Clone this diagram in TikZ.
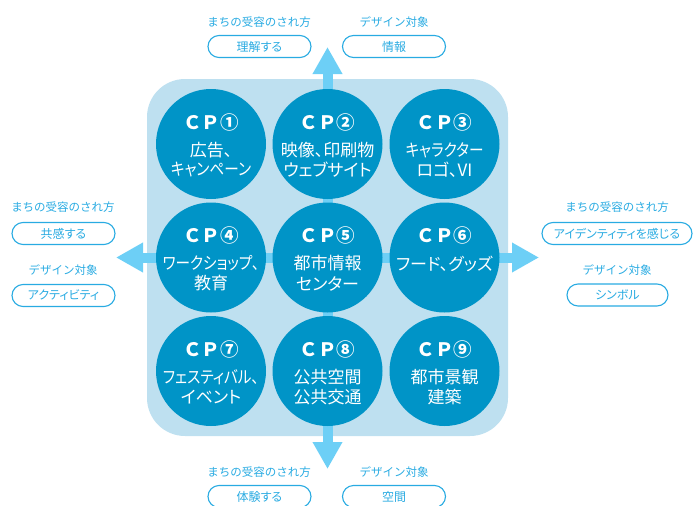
\documentclass[tikz,border=0pt]{standalone}
\usepackage{fontspec}
\setmainfont{Noto Sans CJK JP}
\newfontfamily\jpp[RawFeature=+palt]{Noto Sans CJK JP}
\newfontfamily\jpk[RawFeature=+palt,FakeStretch=0.86]{Noto Sans CJK JP}
\usetikzlibrary{arrows.meta}
\definecolor{bgblue}{HTML}{BEE0F0}
\definecolor{cpblue}{HTML}{0094C7}
\definecolor{arrowblue}{HTML}{6DCFF6}
\definecolor{txtblue}{HTML}{29ABE2}
\newcommand\kn[1]{{\jpk\fontsize{17}{17}\selectfont #1}}
\newcommand\mkcp[6]{%
  \node[cp] (#1) at (#2,#3) {};
  \node[cptitle] (#1t) at (#2,#3-22) {ＣＰ#4};
  \node[cptext] (#1a) at (#2,#3+6) {#5};
  \node[cptext] (#1b) at (#2,#3+26) {#6};
}
\begin{document}
\begin{tikzpicture}[x=1pt,y=-1pt,
  cp/.style={circle, fill=cpblue, minimum size=110pt, inner sep=0pt},
  cptitle/.style={text=white, font=\bfseries\fontsize{18.5}{18.5}\selectfont, inner sep=0pt},
  cptext/.style={text=white, font=\jpp\fontsize{17}{17}\selectfont, inner sep=0pt},
  captext/.style={text=txtblue, font=\fontsize{11.5}{11.5}\selectfont, inner sep=0pt},
  pill/.style={draw=txtblue, line width=1.1pt, fill=white, rounded corners=11pt,
    minimum width=103pt, minimum height=22pt, text=txtblue,
    font=\jpp\fontsize{12}{12}\selectfont, inner sep=0pt},
  bigarrow/.style={draw=arrowblue, line width=10pt,
    {Triangle[length=27pt,width=28pt]}-{Triangle[length=27pt,width=28pt]}}
]
\useasboundingbox (0,0) rectangle (699,506);
% background
\node[fill=bgblue, rounded corners=38pt, minimum width=361pt, minimum height=357pt, inner sep=0pt] (bg) at (327.5,257.5) {};
% arrows
\coordinate (ltip) at (116,257.5);
\coordinate (rtip) at (539,257.5);
\coordinate (ttip) at (327.5,47);
\coordinate (btip) at (327.5,469);
\draw[bigarrow] (ltip) -- (rtip);
\draw[bigarrow] (ttip) -- (btip);
% circles
\mkcp{c1}{211}{144}{①}{広告、}{\kn{キャンペーン}}
\mkcp{c2}{327.5}{144}{②}{映像、印刷物}{ウェブサイト}
\mkcp{c3}{444.5}{144}{③}{\kn{キャラクター}}{ロゴ、VI}
\mkcp{c4}{211}{257.5}{④}{\kn{ワークショップ、}}{教育}
\mkcp{c5}{327.5}{257.5}{⑤}{都市情報}{センター}
\node[cp] (c6) at (444.5,257.5) {};
\node[cptitle] (c6t) at (444.5,235.5) {ＣＰ⑥};
\node[cptext] (c6a) at (444.5,263.5) {フード、グッズ};
\mkcp{c7}{211}{371}{⑦}{\kn{フェスティバル、}}{イベント}
\mkcp{c8}{327.5}{371}{⑧}{公共空間}{公共交通}
\mkcp{c9}{444.5}{371}{⑨}{都市景観}{建築}
% top labels
\node[captext] (tcap1) at (259,22) {まちの受容のされ方};
\node[pill] (tpill1) at (259.5,46.5) {理解する};
\node[captext] (tcap2) at (394,22) {デザイン対象};
\node[pill] (tpill2) at (394,46.5) {情報};
% bottom labels
\node[captext] (bcap1) at (259,472) {まちの受容のされ方};
\node[pill] (bpill1) at (259.5,496.5) {体験する};
\node[captext] (bcap2) at (394,472) {デザイン対象};
\node[pill] (bpill2) at (394,496.5) {空間};
% left labels
\node[captext] (lcap1) at (63,207) {まちの受容のされ方};
\node[pill] (lpill1) at (63.5,233.5) {共感する};
\node[captext] (lcap2) at (63,270) {デザイン対象};
\node[pill] (lpill2) at (63.5,295.5) {アクティビティ};
% right labels
\node[captext] (rcap1) at (617,207) {まちの受容のされ方};
\node[pill, minimum width=150pt] (rpill1) at (617,233.5) {アイデンティティを感じる};
\node[captext] (rcap2) at (617,270) {デザイン対象};
\node[pill, minimum width=101pt] (rpill2) at (617.5,295) {シンボル};
\end{tikzpicture}
\end{document}
